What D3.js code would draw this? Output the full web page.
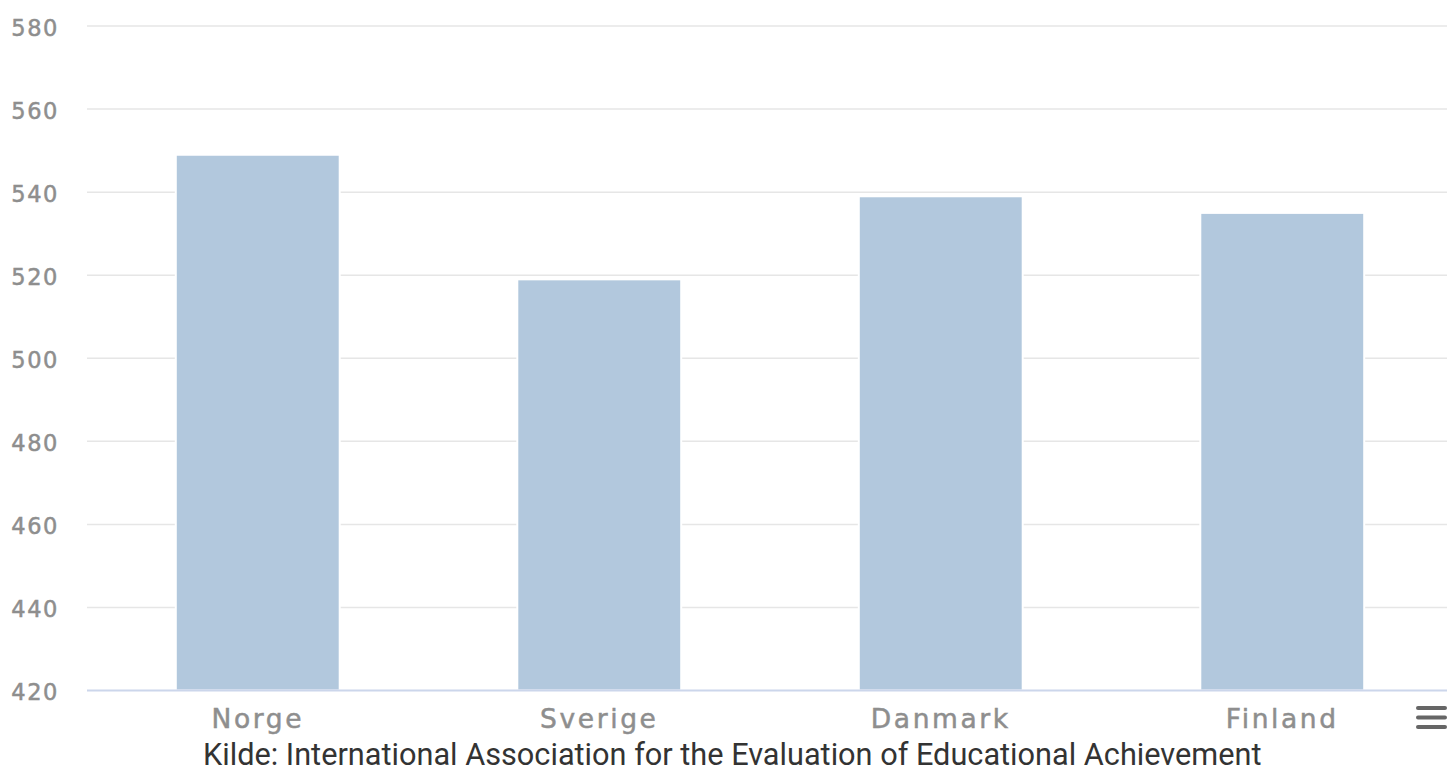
<!DOCTYPE html>
<html>
<head>
<meta charset="utf-8">
<script src="https://cdn.jsdelivr.net/npm/d3@7"></script>
<style>
  html, body { margin: 0; padding: 0; background: #fff; overflow: hidden; }
  svg { display: block; }
</style>
</head>
<body>
<svg id="chart" width="1447" height="769"></svg>
<script>
// TIMSS mathematics scores, Nordic countries
const countries = ["Norge", "Sverige", "Danmark", "Finland"];
const scores = [549, 519, 539, 535];
const yTicks = [420, 440, 460, 480, 500, 520, 540, 560, 580];
const sourceText = "Kilde: International Association for the Evaluation of Educational Achievement";

const svg = d3.select("#chart");
const plot = { left: 87, right: 1453, top: 26, bottom: 690.5 };

const x = d3.scaleBand()
  .domain(countries)
  .range([plot.left, plot.right])
  .paddingInner(0.52)
  .paddingOuter(0.26);

const y = d3.scaleLinear()
  .domain([420, 580])
  .range([plot.bottom, plot.top]);

// Horizontal grid lines
svg.append("g")
  .selectAll("line")
  .data(yTicks.filter(t => t !== 420))
  .join("line")
  .attr("x1", plot.left)
  .attr("x2", plot.right)
  .attr("y1", d => y(d))
  .attr("y2", d => y(d))
  .attr("stroke", "#e6e6e6")
  .attr("stroke-width", 1.5);

// Bars (white outline, as in the original styling)
svg.append("g")
  .selectAll("rect")
  .data(countries.map((c, i) => ({ c, v: scores[i] })))
  .join("rect")
  .attr("x", d => x(d.c))
  .attr("width", x.bandwidth())
  .attr("y", d => y(d.v))
  .attr("height", d => y(420) - y(d.v))
  .attr("fill", "#b2c8dd")
  .attr("stroke", "#ffffff")
  .attr("stroke-width", 2);

// X axis baseline
svg.append("line")
  .attr("x1", plot.left)
  .attr("x2", plot.right)
  .attr("y1", y(420))
  .attr("y2", y(420))
  .attr("stroke", "#ccd6eb")
  .attr("stroke-width", 2);

// Y axis labels
const yAxis = d3.axisLeft(y).tickValues(yTicks).tickSize(0).tickPadding(0);
const gy = svg.append("g")
  .attr("transform", `translate(59,0)`)
  .call(yAxis);
gy.select(".domain").remove();
gy.selectAll("text")
  .attr("dy", "0.40em")
  .attr("fill", "#8e8e8e")
  .attr("stroke", "#8e8e8e")
  .attr("stroke-width", 0.5)
  .style("font-family", "'DejaVu Sans', sans-serif")
  .style("font-size", "22.5px")
  .style("letter-spacing", "1.6px");

// X axis labels
const xAxis = d3.axisBottom(x).tickSize(0).tickPadding(0);
const gx = svg.append("g")
  .attr("transform", `translate(0,${plot.bottom})`)
  .call(xAxis);
gx.select(".domain").remove();
gx.selectAll("text")
  .attr("y", 37.5)
  .attr("dy", 0)
  .attr("fill", "#8e8e8e")
  .attr("stroke", "#8e8e8e")
  .attr("stroke-width", 0.5)
  .style("font-family", "'DejaVu Sans', sans-serif")
  .style("font-size", "26.5px")
  .style("letter-spacing", "2.6px");

// Source credit
svg.append("text")
  .attr("x", 203)
  .attr("y", 765)
  .attr("fill", "#333333")
  .style("font-family", "Roboto, sans-serif")
  .style("font-size", "30.7px")
  .text(sourceText);

// Context menu icon
svg.append("g")
  .selectAll("line")
  .data([708, 717.5, 727])
  .join("line")
  .attr("x1", 1418)
  .attr("x2", 1445)
  .attr("y1", d => d)
  .attr("y2", d => d)
  .attr("stroke", "#666666")
  .attr("stroke-width", 4)
  .attr("stroke-linecap", "round");
</script>
</body>
</html>
